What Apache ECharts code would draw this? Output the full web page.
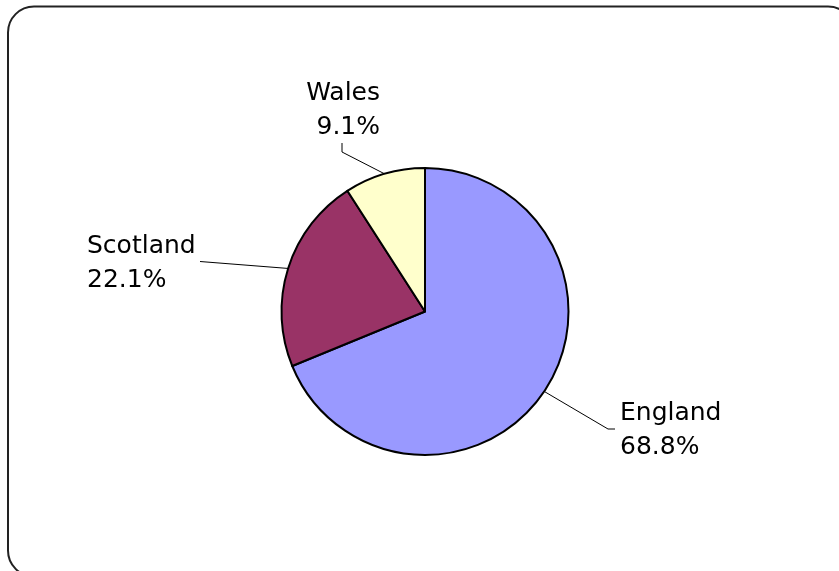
<!DOCTYPE html>
<html>
<head>
<meta charset="utf-8">
<script src="https://cdn.jsdelivr.net/npm/echarts@6/dist/echarts.min.js"></script>
<style>
  html, body { margin: 0; padding: 0; background: #fff; }
  #chart { width: 839px; height: 571px; }
</style>
</head>
<body>
<div id="chart"></div>
<script>
// Share of total by nation (percent)
const regions = ['England', 'Scotland', 'Wales'];
const shares = [68.8, 22.1, 9.1];
const sliceColors = ['#9999FF', '#993366', '#FFFFCC'];

// Where each label block sits and how its leader line bends
const labelPlacement = {
  England:  { x: 620, y: 396, align: 'left',  bend: [[608, 429], [615, 429]] },
  Scotland: { x: 87,  y: 229, align: 'left',  bend: [[200, 261.5], [200, 261.5]] },
  Wales:    { x: 380, y: 76,  align: 'right', bend: [[342, 152], [342, 143]] }
};

const chart = echarts.init(document.getElementById('chart'));

chart.setOption({
  backgroundColor: '#ffffff',
  animation: false,
  graphic: [{
    type: 'rect',
    silent: true,
    shape: { x: 8, y: 6.5, width: 846, height: 570, r: 26 },
    style: { fill: 'none', stroke: '#222', lineWidth: 2 }
  }],
  series: [{
    type: 'pie',
    center: [425, 311.5],
    radius: 143.5,
    startAngle: 90,
    clockwise: true,
    avoidLabelOverlap: false,
    data: regions.map((name, i) => ({
      name,
      value: shares[i],
      itemStyle: { color: sliceColors[i] }
    })),
    itemStyle: { borderColor: '#000', borderWidth: 2 },
    label: {
      show: true,
      formatter: '{b}\n{c}%',
      fontFamily: 'DejaVu Sans',
      fontSize: 25,
      lineHeight: 34,
      color: '#000'
    },
    labelLine: {
      show: true,
      length: 10,
      length2: 10,
      lineStyle: { color: '#000', width: 1 }
    },
    labelLayout: function (params) {
      const name = regions[params.dataIndex];
      const p = labelPlacement[name];
      const start = params.labelLinePoints ? params.labelLinePoints[0] : null;
      const out = {
        x: p.x,
        y: p.y,
        align: p.align,
        verticalAlign: 'top'
      };
      if (start) {
        out.labelLinePoints = [start, p.bend[0], p.bend[1]];
      }
      return out;
    }
  }]
});
</script>
</body>
</html>
